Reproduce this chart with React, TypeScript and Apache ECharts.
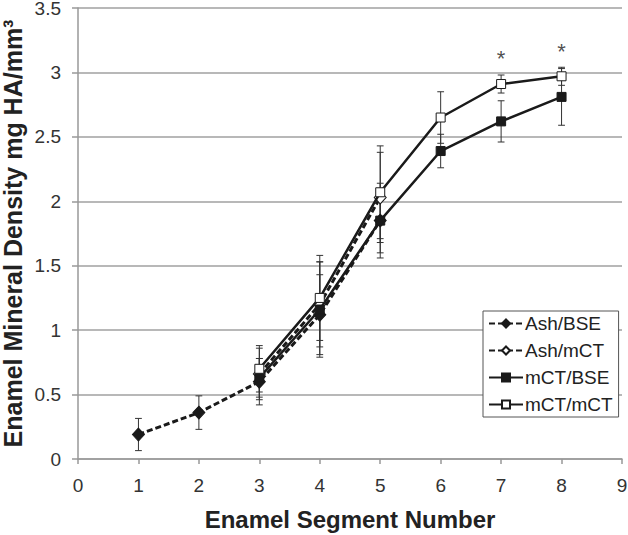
import React, { useEffect, useRef } from "react";
import * as echarts from "echarts";

// ---- data ----
const ashBseX = [1, 2, 3, 4, 5];
const ashBseY = [0.19, 0.36, 0.6, 1.12, 1.85];
const ashBseErr = [0.125, 0.13, 0.18, 0.31, 0.25];

const ashMctX = [3, 4, 5];
const ashMctY = [0.66, 1.2, 2.03];
const ashMctErr = [0.2, 0.33, 0.35];

const mctBseX = [3, 4, 5, 6, 7, 8];
const mctBseY = [0.63, 1.16, 1.85, 2.39, 2.62, 2.81];
const mctBseErr = [0.15, 0.37, 0.29, 0.13, 0.16, 0.22];

const mctMctX = [3, 4, 5, 6, 7, 8];
const mctMctY = [0.7, 1.25, 2.07, 2.65, 2.91, 2.97];
const mctMctErr = [0.18, 0.33, 0.36, 0.2, 0.07, 0.07];

const starX = [7, 8];
const starY = [3.11, 3.16];

const xTitle = "Enamel Segment Number";
const yTitle = "Enamel Mineral Density mg HA/mm³";

const FONT = "'Liberation Sans', Arial, sans-serif";

function pts(xs: number[], ys: number[]) {
  return xs.map((x, i) => [x, ys[i]]);
}
function errs(xs: number[], ys: number[], es: number[]) {
  return xs.map((x, i) => [x, ys[i] - es[i], ys[i] + es[i]]);
}

const errorData = [
  ...errs(ashBseX, ashBseY, ashBseErr),
  ...errs(ashMctX, ashMctY, ashMctErr),
  ...errs(mctBseX, mctBseY, mctBseErr),
  ...errs(mctMctX, mctMctY, mctMctErr),
];

export default function App() {
  const ref = useRef<HTMLDivElement>(null);
  useEffect(() => {
    document.body.style.margin = "0";
    if (!ref.current) return;
    const chart = echarts.init(ref.current, null, { renderer: "svg" });
    const lineColor = "#1a1a1a";
    const dash = [6, 3];
    chart.setOption({
      animation: false,
      backgroundColor: "#ffffff",
      textStyle: { fontFamily: FONT },
      grid: { left: 78, right: 6, top: 8, bottom: 76, outerBoundsMode: "none" },
      legend: {
        orient: "vertical",
        left: 483,
        top: 311,
        padding: [3, 6, 3, 5],
        itemGap: 8,
        itemWidth: 34,
        itemHeight: 10,
        backgroundColor: "#ffffff",
        borderColor: "#555555",
        borderWidth: 1,
        borderRadius: 0,
        textStyle: { fontSize: 19, color: "#222222", fontFamily: FONT, padding: [0, 0, 0, -3] },
        data: ["Ash/BSE", "Ash/mCT", "mCT/BSE", "mCT/mCT"],
      },
      xAxis: {
        type: "value",
        min: 0,
        max: 9,
        interval: 1,
        name: xTitle,
        nameLocation: "middle",
        nameGap: 48,
        nameMoveOverlap: false,
        nameTextStyle: { fontSize: 24, fontWeight: "bold", color: "#222222", fontFamily: FONT },
        axisLine: { show: true, lineStyle: { color: "#999999", width: 1.5 } },
        axisTick: { show: true, length: 5, lineStyle: { color: "#999999", width: 1.5 } },
        axisLabel: { fontSize: 19, color: "#333333", margin: 17, fontFamily: FONT },
        splitLine: { show: false },
      },
      yAxis: {
        type: "value",
        min: 0,
        max: 3.5,
        interval: 0.5,
        name: yTitle,
        nameLocation: "middle",
        nameGap: 53,
        nameMoveOverlap: false,
        nameTextStyle: { fontSize: 25, fontWeight: "bold", color: "#222222", fontFamily: FONT },
        axisLine: { show: true, lineStyle: { color: "#999999", width: 1.5 } },
        axisTick: { show: true, length: 6, lineStyle: { color: "#999999", width: 1.5 } },
        axisLabel: { fontSize: 19, color: "#333333", margin: 17, fontFamily: FONT },
        splitLine: { show: true, lineStyle: { color: "#a0a0a0", width: 1.5 } },
      },
      series: [
        {
          type: "custom",
          name: "err",
          z: 1,
          silent: true,
          data: errorData,
          encode: { x: 0, y: [1, 2] },
          renderItem: (params: any, api: any) => {
            const x = api.value(0);
            const lo = api.coord([x, api.value(1)]);
            const hi = api.coord([x, api.value(2)]);
            const cap = 3.4;
            const style = { stroke: "#333333", lineWidth: 1 };
            return {
              type: "group",
              children: [
                { type: "line", shape: { x1: lo[0], y1: lo[1], x2: hi[0], y2: hi[1] }, style },
                { type: "line", shape: { x1: lo[0] - cap, y1: lo[1], x2: lo[0] + cap, y2: lo[1] }, style },
                { type: "line", shape: { x1: hi[0] - cap, y1: hi[1], x2: hi[0] + cap, y2: hi[1] }, style },
              ],
            };
          },
        },
        {
          name: "Ash/BSE",
          type: "line",
          z: 3,
          data: pts(ashBseX, ashBseY),
          symbol: "diamond",
          symbolSize: [12, 13],
          lineStyle: { color: lineColor, width: 3, type: dash },
          itemStyle: { color: lineColor, borderColor: lineColor, borderWidth: 1 },
        },
        {
          name: "Ash/mCT",
          type: "line",
          z: 3,
          data: pts(ashMctX, ashMctY),
          symbol: "diamond",
          symbolSize: [12, 13],
          lineStyle: { color: lineColor, width: 3, type: dash },
          itemStyle: { color: "#ffffff", borderColor: lineColor, borderWidth: 1 },
        },
        {
          name: "mCT/BSE",
          type: "line",
          z: 4,
          data: pts(mctBseX, mctBseY),
          symbol: "rect",
          symbolSize: 9,
          lineStyle: { color: lineColor, width: 2.5 },
          itemStyle: { color: lineColor, borderColor: lineColor, borderWidth: 1 },
        },
        {
          name: "mCT/mCT",
          type: "line",
          z: 4,
          data: pts(mctMctX, mctMctY),
          symbol: "rect",
          symbolSize: 9,
          lineStyle: { color: lineColor, width: 2.5 },
          itemStyle: { color: "#ffffff", borderColor: lineColor, borderWidth: 1 },
        },
        {
          type: "scatter",
          name: "stars",
          z: 5,
          silent: true,
          symbol: "circle",
          symbolSize: 1,
          itemStyle: { color: "rgba(0,0,0,0)" },
          data: pts(starX, starY),
          label: {
            show: true,
            position: "inside",
            formatter: "*",
            fontSize: 22,
            color: "#222222",
            fontFamily: FONT,
          },
        },
      ],
    });
    return () => chart.dispose();
  }, []);
  return <div ref={ref} style={{ width: 628, height: 535 }} />;
}
